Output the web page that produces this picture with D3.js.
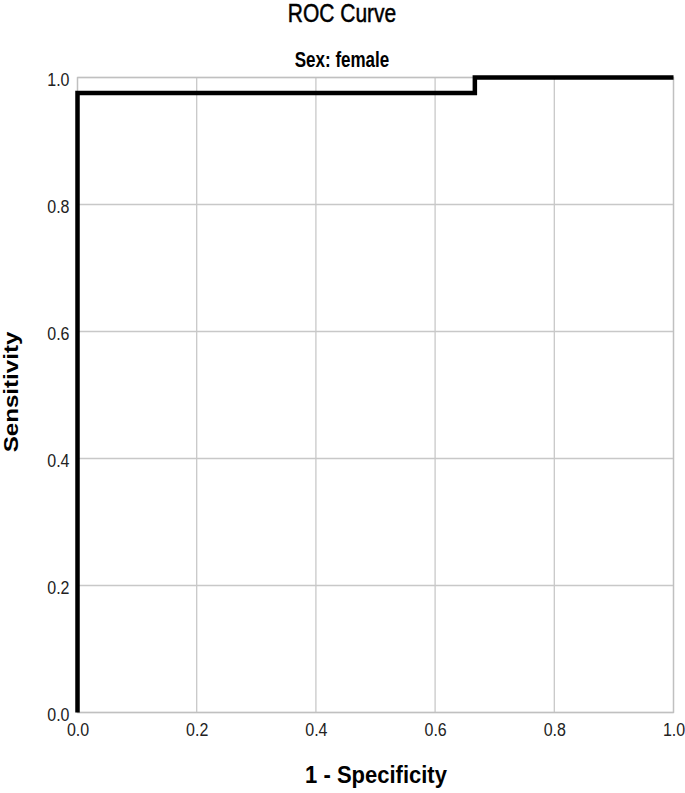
<!DOCTYPE html>
<html><head><meta charset="utf-8">
<script src="https://cdn.jsdelivr.net/npm/d3@7"></script>
<style>body{margin:0;background:#fff;} text{font-family:"Liberation Sans",Arial,sans-serif;}</style>
</head><body>
<svg id="c" width="685" height="793"></svg>
<script>
const fpr = [0, 0, 0.6667, 0.6667, 1.0];
const tpr = [0, 0.9756, 0.9756, 1.0, 1.0];
const xTicks = [0, 0.2, 0.4, 0.6, 0.8, 1.0];
const yTicks = [0, 0.2, 0.4, 0.6, 0.8, 1.0];
const title = "ROC Curve";
const subtitle = "Sex: female";
const xLabel = "1 - Specificity";
const yLabel = "Sensitivity";

const svg = d3.select("#c");
const L = 77.5, R = 673.5, T = 77.5, B = 712.5;
const x = d3.scaleLinear().domain([0,1]).range([L,R]);
const y = d3.scaleLinear().domain([0,1]).range([B,T]);

svg.append("g").selectAll("line.v").data(xTicks).join("line")
  .attr("x1",d=>x(d)).attr("x2",d=>x(d)).attr("y1",T).attr("y2",B)
  .attr("stroke","#c8c8c8").attr("stroke-width",1.3);
svg.append("g").selectAll("line.h").data(yTicks).join("line")
  .attr("y1",d=>y(d)).attr("y2",d=>y(d)).attr("x1",L).attr("x2",R)
  .attr("stroke","#c8c8c8").attr("stroke-width",1.3);
svg.append("rect").attr("x",L).attr("y",T).attr("width",R-L).attr("height",B-T)
  .attr("fill","none").attr("stroke","#c0c0c0").attr("stroke-width",1.3);

const yAxis = d3.axisLeft(y).tickValues(yTicks).tickFormat(d3.format(".1f")).tickSize(0).tickPadding(8);
const gy = svg.append("g").attr("transform",`translate(${L},0)`).call(yAxis);
gy.select(".domain").remove();
gy.selectAll("text").attr("font-size",16).attr("fill","#222").attr("font-family","Liberation Sans, Arial, sans-serif")
  .attr("dy","0.32em").attr("y",2);
gy.selectAll(".tick text").each(function(){
  const t=d3.select(this); t.attr("transform","scale(1,1.12)").attr("y",2/1.12);
});
const xAxis = d3.axisBottom(x).tickValues(xTicks).tickFormat(d3.format(".1f")).tickSize(0).tickPadding(10);
const gx = svg.append("g").attr("transform",`translate(0,${B})`).call(xAxis);
gx.select(".domain").remove();
gx.selectAll("text").attr("font-size",16).attr("fill","#222").attr("font-family","Liberation Sans, Arial, sans-serif")
  .attr("transform","scale(1,1.12)");

const pts = fpr.map((f,i)=>[f,tpr[i]]);
svg.append("path").datum(pts)
  .attr("d", d3.line().x(d=>x(d[0])).y(d=>y(d[1])))
  .attr("fill","none").attr("stroke","#000").attr("stroke-width",4.5).attr("stroke-linejoin","miter");

svg.append("text").attr("transform","translate(342,22) scale(1,1.2)").attr("text-anchor","middle")
  .attr("font-size",21).attr("fill","#000").attr("stroke","#000").attr("stroke-width",0.4).text(title);
svg.append("text").attr("transform","translate(342,67) scale(1,1.3)").attr("text-anchor","middle")
  .attr("font-size",17).attr("font-weight","bold").attr("fill","#000").text(subtitle);
svg.append("text").attr("transform","translate(376,783) scale(1,1.05)").attr("text-anchor","middle")
  .attr("font-size",22).attr("font-weight","bold").attr("fill","#000").text(xLabel);
svg.append("text").attr("transform","translate(18,392) rotate(-90) scale(1.15,1)").attr("text-anchor","middle")
  .attr("font-size",21).attr("font-weight","bold").attr("fill","#000").text(yLabel);
</script>
</body></html>
